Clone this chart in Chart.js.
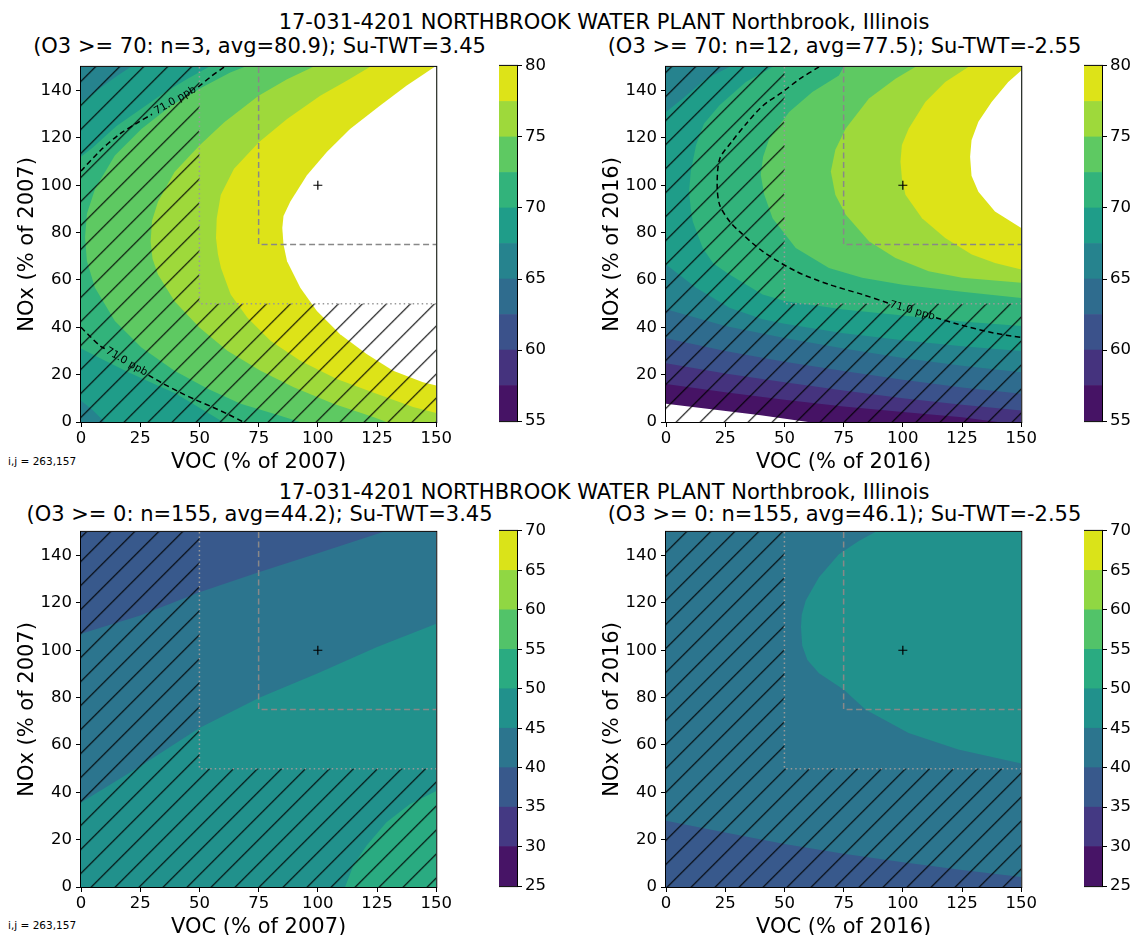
<!DOCTYPE html>
<html>
<head>
<meta charset="utf-8">
<title>Northbrook O3 response surfaces</title>
<script src="https://cdn.jsdelivr.net/npm/chart.js@4.4.1/dist/chart.umd.min.js"></script>
<style>
    body { margin: 0; background: #fff; font-family: "DejaVu Sans", sans-serif; color: #000; }
    #page { position: relative; width: 1133px; height: 935px; overflow: hidden; }
    #page canvas { position: absolute; }
    .txt { position: absolute; white-space: nowrap; line-height: 1; }
    .big { font-size: 21px; transform: translateX(-50%); }
    .ij { font-size: 10.5px; }
</style>
</head>
<body>
<div id="page">
    <div class="txt big" style="left:604px; top:12px">17-031-4201 NORTHBROOK WATER PLANT Northbrook, Illinois</div>
    <div class="txt big" style="left:259.5px; top:36px">(O3 &gt;= 70: n=3, avg=80.9); Su-TWT=3.45</div>
    <div class="txt big" style="left:844.5px; top:36px">(O3 &gt;= 70: n=12, avg=77.5); Su-TWT=-2.55</div>
    <div class="txt ij" style="left:8px; top:456px">i,j = 263,157</div>

    <div class="txt big" style="left:604px; top:482px">17-031-4201 NORTHBROOK WATER PLANT Northbrook, Illinois</div>
    <div class="txt big" style="left:259.5px; top:504px">(O3 &gt;= 0: n=155, avg=44.2); Su-TWT=3.45</div>
    <div class="txt big" style="left:844.5px; top:504px">(O3 &gt;= 0: n=155, avg=46.1); Su-TWT=-2.55</div>
    <div class="txt ij" style="left:8px; top:920px">i,j = 263,157</div>
</div>

<script>
// ---- axes, levels, colours ----
const AX_MIN = 0;
const AX_MAX = 150;
const xTicks = [0, 25, 50, 75, 100, 125, 150];
const yTicks = [0, 20, 40, 60, 80, 100, 120, 140];

const topLevels = [55, 57.5, 60, 62.5, 65, 67.5, 70, 72.5, 75, 77.5, 80];
const topTicks = [55, 60, 65, 70, 75, 80];
const topColors = ['#461365', '#45337e', '#3b528b', '#2f6c8e', '#26838e',
                   '#1f9d89', '#32b37b', '#5ec962', '#9ed93b', '#dde318'];

const bottomLevels = [25, 30, 35, 40, 45, 50, 55, 60, 65, 70];
const bottomTicks = [25, 30, 35, 40, 45, 50, 55, 60, 65, 70];
const bottomColors = ['#471466', '#443983', '#38598c', '#2c758e', '#21918c',
                      '#2aab81', '#52c369', '#90d743', '#dae319'];

// control boxes and the base case marker
const boxDotted = [[50, 150], [50, 50], [150, 50]];
const boxDashed = [[75, 150], [75, 75], [150, 75]];
const baseCase = [[100, 100]];

// ---- top left: contour lines (VOC %, NOx %) ----
const tlCornerHi = [[0, 135], [8, 141], [15, 146], [21, 150]];
const tlCornerLo = [[10, 0], [5, 5], [0, 9]];
const tl70 = [[54, 150], [45, 145], [35, 139], [25, 132], [15, 125], [5, 116], [0, 112],
              [0, 31], [10, 26], [20, 21], [30, 16.5], [40, 12], [50, 6], [60, 0]];
const tl72 = [[69, 150], [63, 147.6], [51, 141.3], [38, 133.6], [25.5, 123.8], [14.3, 112.6],
              [6, 98.6], [2.5, 88], [1.7, 78], [2.5, 68], [5.9, 56.7], [14.3, 42.7], [25.5, 31.5],
              [39.5, 21.7], [53.5, 14], [67.4, 7.7], [81.4, 3.5], [92.6, 0]];
const tl75 = [[98, 150], [87, 144.8], [75, 137.8], [60.5, 126.6], [50, 116.8], [39.5, 105.6],
              [32.5, 93], [30, 85], [29.4, 76.3], [30.2, 69], [32.5, 62.3], [39.5, 51], [50, 39.9],
              [61.8, 30.1], [75.8, 21.7], [89.8, 14.7], [106.6, 7.7], [123.4, 2.1], [129, 0]];
const tl77 = [[122, 150], [112.2, 144.1], [101, 137.8], [87, 128], [75.1, 118.2], [64.6, 107],
              [59, 95.9], [57.3, 86], [57, 77.7], [57.8, 71], [59.1, 65.1], [63.2, 53.9], [70.2, 44.1],
              [80, 34.3], [92.6, 25.9], [108, 18.2], [124.8, 11.9], [140.2, 6.3], [150, 3.8]];
const tl80 = [[149.3, 150], [137.4, 142], [126.2, 133.6], [113.6, 123.8], [103.8, 114], [95.4, 104.2],
              [88.4, 93.1], [85.5, 87], [85, 82], [85.5, 75], [87, 67.9], [92.6, 56.7], [99.6, 46.9],
              [109.4, 37.1], [120.6, 28.7], [131.8, 21.7], [144.4, 16.8], [150, 15.4]];
const tlDashHiA = [[0, 106], [8, 114.5], [16.4, 121.7], [24, 126.5], [30, 130]];
const tlDashHiB = [[49.5, 141.5], [55, 146], [60.5, 150]];
const tlDashLoA = [[0, 40], [4, 36], [8, 32.2], [10, 31]];
const tlDashLoB = [[28.5, 19.8], [34.5, 16.3], [41.6, 12.6], [48.5, 9.3], [55.5, 6.3], [62, 3.3], [68.5, 0]];
const tlLabels = [
    { text: '71.0 ppb', at: [39.8, 135.8], angle: -30 },
    { text: '71.0 ppb', at: [19.2, 25.4], angle: 30 }
];

// ---- top right ----
const tr55 = [[0, 7.7], [20, 5.3], [40, 2.8], [60, 0]];
const tr57 = [[0, 16.1], [25, 12.6], [50, 9.4], [75, 6.6], [100, 4.2], [125, 2], [140, 0]];
const tr60 = [[0, 24.8], [25, 20.5], [50, 16.8], [75, 13.3], [100, 10], [125, 7.3], [150, 4.9]];
const tr62 = [[0, 35.4], [25, 30], [50, 25.5], [75, 21.5], [100, 17.8], [125, 14.6], [150, 11.9]];
const tr65 = [[0, 47.6], [12.7, 44], [25, 40.5], [50, 35.5], [75, 31], [100, 27], [125, 23.8], [150, 21]];
const tr67 = [[0, 66.5], [12.7, 56.7], [26.8, 48.3], [40.8, 43.4], [50, 41.5], [75, 37.5],
              [100, 34.5], [125, 32], [150, 30]];
const trCorner = [[0, 131], [7.1, 136.6], [16.9, 145], [26.8, 150]];
const tr70 = [[45, 150], [33.7, 143.6], [22.6, 133.8], [16, 126], [12.7, 117], [10.5, 106], [9.7, 97.3],
              [10.5, 90], [11.3, 84.7], [15.5, 73.5], [20, 67], [26.8, 62.3], [40.8, 53.9], [50.6, 51],
              [75, 47.5], [100, 45], [125, 42.5], [150, 40.6]];
const tr72 = [[75, 150], [73, 146.4], [61.8, 139.4], [52, 131], [43.6, 119.7], [41, 112], [40, 104.4],
              [41.5, 96], [45, 86.1], [54.8, 73.5], [68.8, 65.1], [82.8, 60.9], [100, 58], [125, 55], [150, 52.4]];
const tr75 = [[105.3, 150], [96.9, 145], [85.7, 136.6], [75.9, 124], [71.5, 115], [69.6, 105.8],
              [71.5, 96], [75.9, 87.5], [85.7, 76.3], [96.9, 69.3], [110.9, 63.7], [125, 60.9], [150, 58.8]];
const tr77 = [[127.7, 150], [117.9, 143.6], [109.5, 135.2], [102.5, 124], [99.6, 117], [99, 110],
              [99.6, 103], [101.1, 96], [108.1, 86.1], [117.9, 77.7], [129.1, 70.8], [138.9, 67.2], [150, 64.4]];
const tr80 = [[150, 148.5], [144.5, 143.6], [137.5, 135.2], [131.9, 126.8], [129, 119], [128.4, 112],
              [129, 104], [131.9, 97.3], [138.9, 88.9], [150, 81.9]];
const trDashA = [[64.6, 150], [56.3, 144.8], [49.3, 139.5], [40.9, 133.6], [33.9, 126], [27.6, 118.2],
                 [22.7, 111.2], [21.6, 100], [22.7, 91.6], [26.9, 84.7], [31, 80.5], [40.8, 72.1],
                 [54.8, 63.7], [68.8, 58.1], [82.8, 53.9], [94, 50.2]];
const trDashB = [[114, 44], [123.4, 41.3], [137.4, 37.8], [150, 35.7]];
const trLabels = [{ text: '71.0 ppb', at: [104, 47], angle: 16 }];

// ---- bottom left ----
const bl40 = [[0, 107], [25, 114.7], [50, 124.5], [75, 133], [100, 141], [127.6, 150]];
const bl45 = [[0, 35.7], [25, 51], [50, 67.2], [75, 79.8], [100, 90.3], [125, 101.4], [150, 111.2]];
const bl50 = [[111.5, 0], [115, 9.1], [120.6, 17.5], [129, 27.3], [138.8, 35], [150, 40.6]];

// ---- bottom right ----
const br40 = [[0, 28], [25, 23], [50, 18.2], [75, 14], [100, 10.5], [125, 7.2], [150, 4.2]];
const br45 = [[88.4, 150], [81.4, 146.2], [73, 140.6], [64.6, 130.8], [59, 121], [57.3, 115], [57, 109.8],
              [57.5, 102], [59.7, 95.9], [64.6, 90.3], [75.1, 83.3], [84.2, 75], [102.4, 65.1],
              [123.4, 58.1], [150, 52.2]];

// ---- layout (page pixels) ----
const PLOT = 357;
const Y_AXIS_W = 81;
const X_AXIS_H = 56;
const PAD_TOP = 12;
const PAD_RIGHT = 16;

Chart.defaults.font.family = '"DejaVu Sans", sans-serif';
Chart.defaults.color = '#000';

// closing helpers: a contour plus the plot corners on the side it encloses
function fullPlot() {
    return [[AX_MIN, AX_MIN], [AX_MAX, AX_MIN], [AX_MAX, AX_MAX], [AX_MIN, AX_MAX]];
}
function closeRight(curve) {
    const pts = curve.slice();
    if (pts[pts.length - 1][1] === AX_MIN) pts.push([AX_MAX, AX_MIN]);
    pts.push([AX_MAX, AX_MAX]);
    return pts;
}
function closeAbove(curve) {
    const pts = curve.slice();
    if (pts[pts.length - 1][1] === AX_MIN) pts.push([AX_MAX, AX_MIN]);
    pts.push([AX_MAX, AX_MAX], [AX_MIN, AX_MAX]);
    return pts;
}
function closeBelow(curve) {
    const pts = curve.slice();
    if (pts[pts.length - 1][1] === AX_MAX) pts.push([AX_MAX, AX_MAX]);
    pts.push([AX_MAX, AX_MIN], [AX_MIN, AX_MIN]);
    return pts;
}
function closeAt(curve, corner) {
    return curve.concat([corner]);
}
function hatchRegion() {
    const c = boxDotted[1];
    return [[AX_MIN, AX_MIN], [AX_MAX, AX_MIN], [AX_MAX, c[1]], [c[0], c[1]], [c[0], AX_MAX], [AX_MIN, AX_MAX]];
}

function toXY(points) {
    return points.map(p => ({ x: p[0], y: p[1] }));
}

function areaSet(points, color) {
    return {
        data: toXY(points),
        fill: 'shape',
        backgroundColor: color,
        borderColor: 'rgba(0,0,0,0)',
        borderWidth: 0,
        pointRadius: 0,
        tension: 0
    };
}

function lineSet(points, color, width, dash, tension) {
    return {
        data: toXY(points),
        fill: false,
        borderColor: color,
        borderWidth: width,
        borderDash: dash,
        pointRadius: 0,
        tension: tension
    };
}

// '/' hatching, phase kept the same across the figure
function hatchPattern(canvasLeft, canvasTop) {
    const s = 24;
    const tile = document.createElement('canvas');
    tile.width = s;
    tile.height = s;
    const g = tile.getContext('2d');
    g.strokeStyle = '#000';
    g.lineWidth = 1.1;
    g.beginPath();
    g.moveTo(-2, s + 2); g.lineTo(s + 2, -2);
    g.moveTo(-2, 2); g.lineTo(2, -2);
    g.moveTo(s - 2, s + 2); g.lineTo(s + 2, s - 2);
    g.stroke();
    const pattern = g.createPattern(tile, 'repeat');
    const shift = ((18.3 - canvasLeft - canvasTop) % s + s) % s;
    pattern.setTransform(new DOMMatrix([1, 0, 0, 1, shift, 0]));
    return pattern;
}

const framePlugin = {
    id: 'frame',
    afterDraw(chart) {
        const { ctx, chartArea: a } = chart;
        ctx.save();
        ctx.strokeStyle = '#000';
        ctx.lineWidth = 1;
        ctx.strokeRect(a.left - 0.5, a.top - 0.5, a.right - a.left + 1, a.bottom - a.top + 1);
        ctx.restore();
    }
};

const contourLabelPlugin = {
    id: 'contourLabels',
    afterDatasetsDraw(chart, args, opts) {
        const { ctx, scales } = chart;
        ctx.save();
        ctx.font = '10.5px "DejaVu Sans"';
        ctx.fillStyle = '#000';
        ctx.textAlign = 'center';
        ctx.textBaseline = 'middle';
        (opts.items || []).forEach(l => {
            ctx.save();
            ctx.translate(scales.x.getPixelForValue(l.at[0]), scales.y.getPixelForValue(l.at[1]));
            ctx.rotate(l.angle * Math.PI / 180);
            ctx.fillText(l.text, 0, 0);
            ctx.restore();
        });
        ctx.restore();
    }
};

function addCanvas(left, top, width, height) {
    const canvas = document.createElement('canvas');
    canvas.width = width;
    canvas.height = height;
    canvas.style.left = left + 'px';
    canvas.style.top = top + 'px';
    document.getElementById('page').appendChild(canvas);
    return canvas;
}

function makePanel(p) {
    const left = p.left - Y_AXIS_W;
    const top = p.top - PAD_TOP;
    const canvas = addCanvas(left, top, Y_AXIS_W + PLOT + PAD_RIGHT, PAD_TOP + PLOT + X_AXIS_H);

    const datasets = p.layers.map(l => areaSet(l[0], l[1]));
    datasets.push(areaSet(hatchRegion(), hatchPattern(left, top)));
    datasets.push(lineSet(boxDotted, '#999', 1.5, [1.5, 3], 0));
    datasets.push(lineSet(boxDashed, '#888', 1.5, [6, 3.5], 0));
    p.dashed.forEach(d => datasets.push(lineSet(d, '#000', 1.5, [5.5, 3.5], 0.3)));
    datasets.push({
        data: toXY(baseCase), showLine: false, pointStyle: 'cross',
        pointRadius: 4.5, borderColor: '#000', borderWidth: 1.2
    });
    datasets.forEach((d, i) => { d.order = -i; });

    const tickGrid = { drawOnChartArea: false, drawTicks: true, tickLength: 5, color: '#000' };
    new Chart(canvas, {
        type: 'line',
        data: { datasets: datasets },
        options: {
            responsive: false,
            animation: false,
            events: [],
            layout: { padding: { top: PAD_TOP, right: PAD_RIGHT, left: 0, bottom: 0 } },
            plugins: {
                legend: { display: false },
                tooltip: { enabled: false },
                contourLabels: { items: p.labels }
            },
            scales: {
                x: {
                    type: 'linear', min: AX_MIN, max: AX_MAX,
                    afterBuildTicks: a => { a.ticks = xTicks.map(v => ({ value: v })); },
                    afterFit: a => { a.height = X_AXIS_H; },
                    grid: tickGrid,
                    border: { display: false },
                    ticks: { font: { size: 16.5 }, padding: 2, maxRotation: 0, color: '#000' },
                    title: { display: true, text: p.xTitle, font: { size: 21 }, padding: { top: 0, bottom: 3 }, color: '#000' }
                },
                y: {
                    type: 'linear', min: AX_MIN, max: AX_MAX,
                    afterBuildTicks: a => { a.ticks = yTicks.map(v => ({ value: v })); },
                    afterFit: a => { a.width = Y_AXIS_W; },
                    grid: tickGrid,
                    border: { display: false },
                    ticks: { font: { size: 16.5 }, padding: 4, color: '#000' },
                    title: { display: true, text: p.yTitle, font: { size: 21 }, padding: { top: 15, bottom: 0 }, color: '#000' }
                }
            }
        },
        plugins: [framePlugin, contourLabelPlugin]
    });

    makeColorbar(p.left + 418, p.top, p.levels, p.colors, p.cbTicks);
}

function makeColorbar(left, top, levels, colors, ticks) {
    const canvas = addCanvas(left, top - PAD_TOP, 18 + 50, PLOT + 2 * PAD_TOP);
    const datasets = colors.map((c, i) => ({
        data: [[levels[i], levels[i + 1]]],
        backgroundColor: c,
        borderWidth: 0,
        barPercentage: 1,
        categoryPercentage: 1,
        grouped: false
    }));
    new Chart(canvas, {
        type: 'bar',
        data: { labels: [''], datasets: datasets },
        options: {
            responsive: false,
            animation: false,
            events: [],
            layout: { padding: { top: PAD_TOP, bottom: PAD_TOP, left: 0, right: 0 } },
            plugins: { legend: { display: false }, tooltip: { enabled: false } },
            scales: {
                x: { display: false },
                y: {
                    position: 'right',
                    min: levels[0], max: levels[levels.length - 1],
                    afterBuildTicks: a => { a.ticks = ticks.map(v => ({ value: v })); },
                    afterFit: a => { a.width = 50; },
                    grid: { drawOnChartArea: false, drawTicks: true, tickLength: 5, color: '#000' },
                    border: { display: false },
                    ticks: { font: { size: 16.5 }, padding: 3, color: '#000' }
                }
            }
        },
        plugins: [framePlugin]
    });
}

const WHITE = '#ffffff';
const panels = [
    {
        left: 81, top: 65, xTitle: 'VOC (% of 2007)', yTitle: 'NOx (% of 2007)',
        levels: topLevels, colors: topColors, cbTicks: topTicks,
        layers: [
            [fullPlot(), topColors[5]],
            [closeAt(tlCornerHi, [AX_MIN, AX_MAX]), topColors[4]],
            [closeAt(tlCornerLo, [AX_MIN, AX_MIN]), topColors[4]],
            [closeRight(tl70), topColors[6]],
            [closeRight(tl72), topColors[7]],
            [closeRight(tl75), topColors[8]],
            [closeRight(tl77), topColors[9]],
            [closeRight(tl80), WHITE]
        ],
        dashed: [tlDashHiA, tlDashHiB, tlDashLoA, tlDashLoB],
        labels: tlLabels
    },
    {
        left: 666, top: 65, xTitle: 'VOC (% of 2016)', yTitle: 'NOx (% of 2016)',
        levels: topLevels, colors: topColors, cbTicks: topTicks,
        layers: [
            [closeAbove(tr55), topColors[0]],
            [closeAbove(tr57), topColors[1]],
            [closeAbove(tr60), topColors[2]],
            [closeAbove(tr62), topColors[3]],
            [closeAbove(tr65), topColors[4]],
            [closeAbove(tr67), topColors[5]],
            [closeAt(trCorner, [AX_MIN, AX_MAX]), topColors[4]],
            [closeRight(tr70), topColors[6]],
            [closeRight(tr72), topColors[7]],
            [closeRight(tr75), topColors[8]],
            [closeRight(tr77), topColors[9]],
            [closeRight(tr80), WHITE]
        ],
        dashed: [trDashA, trDashB],
        labels: trLabels
    },
    {
        left: 81, top: 530, xTitle: 'VOC (% of 2007)', yTitle: 'NOx (% of 2007)',
        levels: bottomLevels, colors: bottomColors, cbTicks: bottomTicks,
        layers: [
            [fullPlot(), bottomColors[2]],
            [closeBelow(bl40), bottomColors[3]],
            [closeBelow(bl45), bottomColors[4]],
            [closeAt(bl50, [AX_MAX, AX_MIN]), bottomColors[5]]
        ],
        dashed: [],
        labels: []
    },
    {
        left: 666, top: 530, xTitle: 'VOC (% of 2016)', yTitle: 'NOx (% of 2016)',
        levels: bottomLevels, colors: bottomColors, cbTicks: bottomTicks,
        layers: [
            [fullPlot(), bottomColors[3]],
            [closeBelow(br40), bottomColors[2]],
            [closeRight(br45), bottomColors[4]]
        ],
        dashed: [],
        labels: []
    }
];

panels.forEach(makePanel);
</script>
</body>
</html>
